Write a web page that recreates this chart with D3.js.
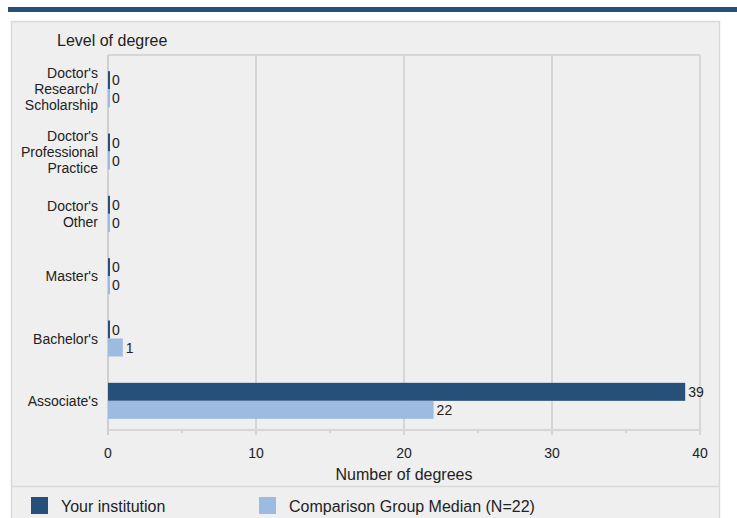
<!DOCTYPE html>
<html>
<head>
<meta charset="utf-8">
<script src="https://cdn.jsdelivr.net/npm/d3@7"></script>
<style>
  html, body { margin: 0; padding: 0; background: #fff; }
  svg { display: block; font-family: "Liberation Sans", Arial, sans-serif; }
</style>
</head>
<body>
<svg id="chart" width="737" height="518"></svg>
<script>
// Degrees awarded by level
const categories = [
    ["Doctor's", "Research/", "Scholarship"],
    ["Doctor's", "Professional", "Practice"],
    ["Doctor's", "Other"],
    ["Master's"],
    ["Bachelor's"],
    ["Associate's"]
];
const institution = [0, 0, 0, 0, 0, 39];
const comparison = [0, 0, 0, 0, 1, 22];
const seriesNames = ["Your institution", "Comparison Group Median (N=22)"];
const xTicks = [0, 10, 20, 30, 40];
const minorTicks = [5, 15, 25, 35];

const svg = d3.select('#chart');
const colors = ['#264f7a', '#9dbbe0'];

// top rule and panel
svg.append('rect').attr('x', 8).attr('y', 7).attr('width', 729).attr('height', 5).attr('fill', '#264f7a');
svg.append('rect').attr('x', 11.5).attr('y', 21.5).attr('width', 708).attr('height', 510)
    .attr('fill', '#efefef').attr('stroke', '#d9d9d9').attr('stroke-width', 1.5);

const plotTop = 55, plotBottom = 430;
const x = d3.scaleLinear().domain([0, 40]).range([108, 700]);
const y = d3.scaleBand().domain(d3.range(categories.length)).range([58, 432]);

// grid and frame
const grid = svg.append('g');
grid.selectAll('line.v').data(xTicks.slice(1)).join('line')
    .attr('x1', d => x(d)).attr('x2', d => x(d))
    .attr('y1', plotTop).attr('y2', plotBottom + 5)
    .attr('stroke', '#d6d6d6').attr('stroke-width', 2);
grid.append('line').attr('x1', x(0)).attr('x2', x(40)).attr('y1', plotTop).attr('y2', plotTop)
    .attr('stroke', '#d6d6d6').attr('stroke-width', 2);
grid.append('line').attr('x1', x(0)).attr('x2', x(40)).attr('y1', plotBottom).attr('y2', plotBottom)
    .attr('stroke', '#d6d6d6').attr('stroke-width', 2);
grid.selectAll('line.m').data(minorTicks).join('line')
    .attr('x1', d => x(d)).attr('x2', d => x(d))
    .attr('y1', plotBottom).attr('y2', plotBottom + 3)
    .attr('stroke', '#d6d6d6').attr('stroke-width', 2);
grid.append('line').attr('x1', x(0)).attr('x2', x(0)).attr('y1', plotTop).attr('y2', plotBottom + 5)
    .attr('stroke', '#cfcfcf').attr('stroke-width', 2);

// bars
const barH = 18;
const series = [institution, comparison];
series.forEach((vals, s) => {
    const g = svg.append('g');
    g.selectAll('rect').data(vals).join('rect')
        .attr('x', x(0))
        .attr('y', (d, i) => y(i) + y.bandwidth() / 2 - barH + s * barH)
        .attr('width', d => Math.max(2, x(d) - x(0)))
        .attr('height', barH)
        .attr('fill', colors[s]);
    g.selectAll('text').data(vals).join('text')
        .attr('x', d => Math.max(x(0) + 1, x(d)) + 3)
        .attr('y', (d, i) => y(i) + y.bandwidth() / 2 - barH / 2 + s * barH + 5)
        .attr('font-size', 14).attr('fill', '#222')
        .text(d => d);
});

// category labels
const labels = svg.append('g');
categories.forEach((lines, i) => {
    const cy = y(i) + y.bandwidth() / 2;
    const t = labels.append('text').attr('text-anchor', 'end').attr('font-size', 14).attr('fill', '#222');
    lines.forEach((ln, k) => {
        t.append('tspan').attr('x', 98)
            .attr('y', cy + (k - (lines.length - 1) / 2) * 16 + 5)
            .text(ln);
    });
});

// x tick labels
svg.append('g').selectAll('text').data(xTicks).join('text')
    .attr('x', d => x(d)).attr('y', 458)
    .attr('text-anchor', 'middle').attr('font-size', 14).attr('fill', '#222')
    .text(d => d);

svg.append('text').attr('x', 404).attr('y', 480).attr('text-anchor', 'middle')
    .attr('font-size', 16).attr('fill', '#222').text('Number of degrees');
svg.append('text').attr('x', 57).attr('y', 46)
    .attr('font-size', 16).attr('fill', '#222').text('Level of degree');

// legend
svg.append('line').attr('x1', 12).attr('x2', 719).attr('y1', 486.5).attr('y2', 486.5)
    .attr('stroke', '#d9d9d9').attr('stroke-width', 1.5);
const legendX = [31, 259];
seriesNames.forEach((name, s) => {
    svg.append('rect').attr('x', legendX[s]).attr('y', 497).attr('width', 17).attr('height', 17)
        .attr('fill', colors[s]);
    svg.append('text').attr('x', legendX[s] + 30).attr('y', 512)
        .attr('font-size', 16).attr('fill', '#222').text(name);
});
</script>
</body>
</html>
